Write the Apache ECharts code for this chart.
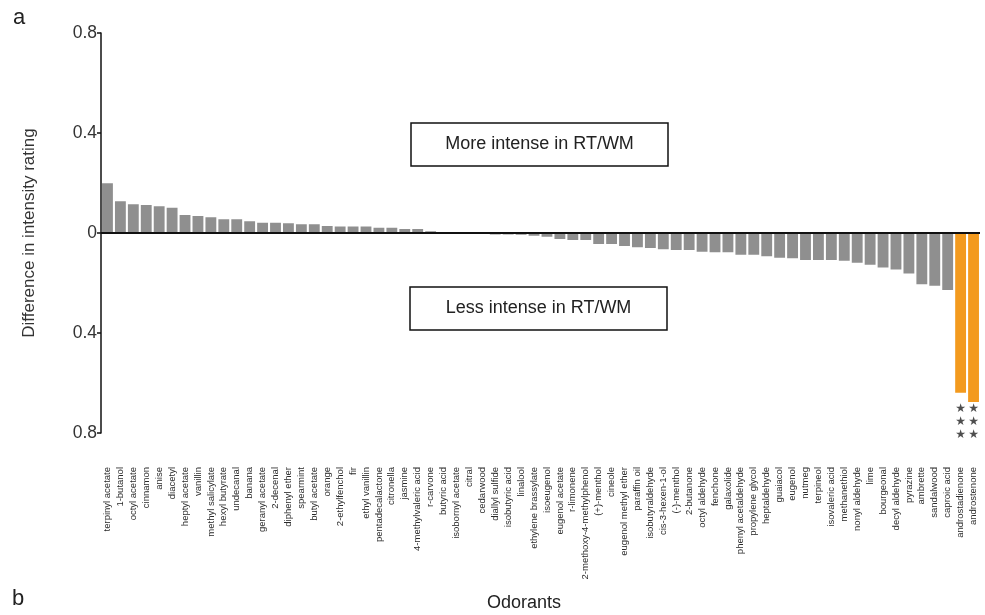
<!DOCTYPE html>
<html>
<head>
<meta charset="utf-8">
<style>
  html, body { margin: 0; padding: 0; background: #ffffff; }
  #chart { width: 985px; height: 615px; }
</style>
<script src="https://cdn.jsdelivr.net/npm/echarts@6/dist/echarts.min.js"></script>
</head>
<body>
<div id="chart"></div>
<script>
// Odorants, ordered by difference in intensity rating
const odorants = [
  'terpinyl acetate', '1-butanol', 'octyl acetate', 'cinnamon', 'anise', 'diacetyl',
  'heptyl acetate', 'vanillin', 'methyl salicylate', 'hexyl butyrate', 'undecanal', 'banana',
  'geranyl acetate', '2-decenal', 'diphenyl ether', 'spearmint', 'butyl acetate', 'orange',
  '2-ethylfenchol', 'fir', 'ethyl vanillin', 'pentadecalactone', 'citronella', 'jasmine',
  '4-methylvaleric acid', 'r-carvone', 'butyric acid', 'isobornyl acetate', 'citral', 'cedarwood',
  'diallyl sulfide', 'isobutyric acid', 'linalool', 'ethylene brassylate', 'isoeugenol', 'eugenol acetate',
  'r-limonene', '2-methoxy-4-methylphenol', '(+)-menthol', 'cineole', 'eugenol methyl ether', 'paraffin oil',
  'isobutyraldehyde', 'cis-3-hexen-1-ol', '(-)-menthol', '2-butanone', 'octyl aldehyde', 'fenchone',
  'galaxolide', 'phenyl acetaldehyde', 'propylene glycol', 'heptaldehyde', 'guaiacol', 'eugenol',
  'nutmeg', 'terpineol', 'isovaleric acid', 'methanethiol', 'nonyl aldehyde', 'lime',
  'bourgeonal', 'decyl aldehyde', 'pyrazine', 'ambrette', 'sandalwood', 'caproic acid',
  'androstadienone', 'androstenone'
];

// Difference in intensity rating (RT/WM minus others)
const difference = [
  0.199, 0.127, 0.115, 0.112, 0.107, 0.101,
  0.072, 0.068, 0.063, 0.055, 0.055, 0.047,
  0.041, 0.041, 0.039, 0.035, 0.035, 0.028,
  0.026, 0.026, 0.026, 0.021, 0.021, 0.016,
  0.016, 0.007, 0.002, 0.001, -0.001, -0.002,
  -0.006, -0.006, -0.007, -0.011, -0.015, -0.024,
  -0.028, -0.028, -0.044, -0.044, -0.052, -0.057,
  -0.060, -0.065, -0.068, -0.068, -0.075, -0.077,
  -0.077, -0.087, -0.087, -0.093, -0.099, -0.101,
  -0.108, -0.108, -0.108, -0.111, -0.119, -0.127,
  -0.138, -0.146, -0.162, -0.205, -0.211, -0.228,
  -0.639, -0.676
];

// Odorants with a significant difference (***)
const significant = ['androstadienone', 'androstenone'];
const sigMark = '★\n★\n★';

// Y axis tick values
const yTicks = [-0.8, -0.4, 0, 0.4, 0.8];

const GRAY = '#8f8f8f';
const ORANGE = '#f39a1e';
const STAR_LEVEL = -0.755;

const barData = difference.map((v, i) => ({
  value: v,
  itemStyle: { color: significant.includes(odorants[i]) ? ORANGE : GRAY }
}));

const starData = significant.map(name => [odorants.indexOf(name), STAR_LEVEL]);

const chart = echarts.init(document.getElementById('chart'), null, { renderer: 'canvas' });

chart.setOption({
  animation: false,
  backgroundColor: '#ffffff',
  grid: { left: 101, right: 5, top: 33, bottom: 182, containLabel: false },
  xAxis: {
    type: 'category',
    data: odorants,
    axisLine: { show: false, onZero: false },
    axisTick: { show: false },
    axisLabel: {
      interval: 0,
      rotate: 90,
      margin: 34,
      fontFamily: 'Liberation Sans, Arial, sans-serif',
      fontSize: 9.5,
      color: '#2a2a2a'
    },
    splitLine: { show: false }
  },
  yAxis: {
    type: 'value',
    min: yTicks[0],
    max: yTicks[yTicks.length - 1],
    interval: 0.4,
    name: 'Difference in intensity rating',
    nameLocation: 'middle',
    nameGap: 63,
    nameTextStyle: {
      fontFamily: 'Liberation Sans, Arial, sans-serif',
      fontSize: 17,
      color: '#333333'
    },
    axisLine: { show: true, lineStyle: { color: '#111111', width: 1.5 } },
    axisTick: { show: true, length: 4, lineStyle: { color: '#111111', width: 1.5 } },
    axisLabel: {
      margin: 4,
      fontFamily: 'Liberation Sans, Arial, sans-serif',
      fontSize: 17.5,
      color: '#333333',
      formatter: v => (v === 0 ? '0' : Math.abs(v).toFixed(1))
    },
    splitLine: { show: false }
  },
  series: [
    {
      type: 'bar',
      data: barData,
      barCategoryGap: '16%',
      markLine: {
        silent: true,
        symbol: 'none',
        label: { show: false },
        lineStyle: { color: '#111111', width: 2, type: 'solid' },
        data: [{ yAxis: 0 }]
      }
    },
    {
      type: 'scatter',
      data: starData,
      symbol: 'circle',
      symbolSize: 1,
      itemStyle: { color: 'rgba(0,0,0,0)' },
      label: {
        show: true,
        position: 'inside',
        formatter: sigMark,
        fontFamily: 'DejaVu Sans, sans-serif',
        fontSize: 12,
        lineHeight: 13,
        color: '#222222'
      }
    }
  ],
  graphic: [
    { type: 'text', left: 13, top: 7, style: { text: 'a', font: '22px "Liberation Sans", Arial, sans-serif', fill: '#222222' } },
    { type: 'text', left: 12, top: 588, style: { text: 'b', font: '22px "Liberation Sans", Arial, sans-serif', fill: '#222222' } },
    { type: 'text', left: 487, top: 594, style: { text: 'Odorants', font: '18px "Liberation Sans", Arial, sans-serif', fill: '#222222' } },
    {
      type: 'rect',
      shape: { x: 411, y: 123, width: 257, height: 43 },
      style: { fill: '#ffffff', stroke: '#111111', lineWidth: 1.5 }
    },
    {
      type: 'text',
      x: 539.5, y: 144.5,
      style: { text: 'More intense in RT/WM', font: '18px "Liberation Sans", Arial, sans-serif', fill: '#222222', align: 'center', verticalAlign: 'middle' }
    },
    {
      type: 'rect',
      shape: { x: 410, y: 287, width: 257, height: 43 },
      style: { fill: '#ffffff', stroke: '#111111', lineWidth: 1.5 }
    },
    {
      type: 'text',
      x: 538.5, y: 308.5,
      style: { text: 'Less intense in RT/WM', font: '18px "Liberation Sans", Arial, sans-serif', fill: '#222222', align: 'center', verticalAlign: 'middle' }
    }
  ]
});
</script>
</body>
</html>
